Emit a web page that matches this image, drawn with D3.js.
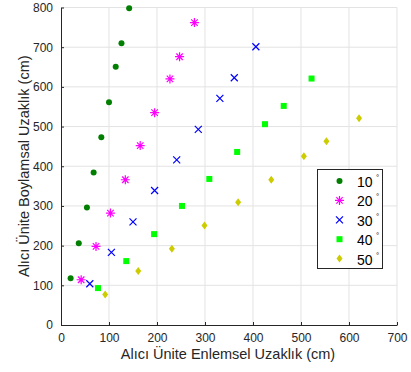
<!DOCTYPE html>
<html>
<head>
<meta charset="utf-8">
<script src="https://cdn.jsdelivr.net/npm/d3@7"></script>
<style>
  body { margin: 0; background: #fff; }
  svg { font-family: "Liberation Sans", Arial, sans-serif; }
</style>
</head>
<body>
<div id="chart"></div>
<script>
// values (cm)
const angles = ["10", "20", "30", "40", "50"];
const x10 = [20, 37, 54, 68, 84, 100, 114, 126, 142];
const y10 = [118, 206, 296, 384, 473, 561, 651, 710, 798];
const x20 = [42, 73, 103, 134, 165, 195, 227, 247, 278];
const y20 = [114, 198, 282, 366, 452, 535, 620, 676, 762];
const x30 = [60, 105, 150, 195, 241, 286, 331, 361, 406];
const y30 = [104, 183, 260, 339, 416, 493, 571, 623, 701];
const x40 = [77, 136, 194, 252, 309, 367, 425, 464, 522];
const y40 = [93, 161, 229, 300, 368, 436, 506, 552, 621];
const x50 = [92, 161, 231, 299, 369, 438, 506, 553, 621];
const y50 = [77, 136, 192, 251, 309, 366, 425, 463, 521];
const xTicks = [0, 100, 200, 300, 400, 500, 600, 700];
const yTicks = [0, 100, 200, 300, 400, 500, 600, 700, 800];

const width = 411, height = 372;
const svg = d3.select("#chart").append("svg")
  .attr("width", width).attr("height", height);

const x = d3.scaleLinear().domain([0, 700]).range([61, 397]);
const y = d3.scaleLinear().domain([0, 800]).range([325, 7.5]);

// grid
svg.append("g").selectAll("line").data(xTicks.slice(1)).join("line")
  .attr("x1", d => x(d)).attr("x2", d => x(d))
  .attr("y1", y(0)).attr("y2", y(800))
  .attr("stroke", "#e3e3e3").attr("stroke-width", 1);
svg.append("g").selectAll("line").data(yTicks.slice(1)).join("line")
  .attr("x1", x(0)).attr("x2", x(700))
  .attr("y1", d => y(d)).attr("y2", d => y(d))
  .attr("stroke", "#e3e3e3").attr("stroke-width", 1);

// axes
const xAxis = svg.append("g").attr("transform", `translate(0,${y(0)})`)
  .call(d3.axisBottom(x).tickValues(xTicks).tickSizeInner(-3).tickSizeOuter(0).tickPadding(8));
const yAxis = svg.append("g").attr("transform", `translate(${x(0)},0)`)
  .call(d3.axisLeft(y).tickValues(yTicks).tickSizeInner(-3).tickSizeOuter(0).tickPadding(8));
[xAxis, yAxis].forEach(g => {
  g.select(".domain").attr("stroke", "#262626");
  g.selectAll(".tick line").attr("stroke", "#262626");
  g.selectAll(".tick text").attr("fill", "#262626").attr("font-size", 12)
    .attr("font-family", "Liberation Sans, Arial, sans-serif");
});

svg.append("text").attr("x", (x(0) + x(700)) / 2 - 1).attr("y", 359)
  .attr("text-anchor", "middle").attr("font-size", 14.5).attr("fill", "#262626")
  .text("Alıcı Ünite Enlemsel Uzaklık (cm)");
svg.append("text")
  .attr("transform", `translate(29,${(y(0) + y(800)) / 2}) rotate(-90)`)
  .attr("text-anchor", "middle").attr("font-size", 14.5).attr("fill", "#262626")
  .text("Alıcı Ünite Boylamsal Uzaklık (cm)");

// marker drawing
function marker(g, kind, color) {
  if (kind === "circle") {
    g.append("circle").attr("r", 3).attr("fill", color);
  } else if (kind === "star") {
    const s = 4.5;
    g.append("path")
      .attr("d", `M${-s},0H${s}M0,${-s}V${s}M${-s*0.72},${-s*0.72}L${s*0.72},${s*0.72}M${-s*0.72},${s*0.72}L${s*0.72},${-s*0.72}`)
      .attr("stroke", color).attr("stroke-width", 1.2).attr("fill", "none");
  } else if (kind === "cross") {
    const s = 3.5;
    g.append("path").attr("d", `M${-s},${-s}L${s},${s}M${-s},${s}L${s},${-s}`)
      .attr("stroke", color).attr("stroke-width", 1.2).attr("fill", "none");
  } else if (kind === "square") {
    g.append("rect").attr("x", -3).attr("y", -3).attr("width", 6).attr("height", 6).attr("fill", color);
  } else {
    g.append("path").attr("d", "M0,-4L3,0L0,4L-3,0Z").attr("fill", color);
  }
}

const series = [
  { xs: x10, ys: y10, kind: "circle", color: "#007f00" },
  { xs: x20, ys: y20, kind: "star", color: "#ff00ff" },
  { xs: x30, ys: y30, kind: "cross", color: "#0000ff" },
  { xs: x40, ys: y40, kind: "square", color: "#00ff00" },
  { xs: x50, ys: y50, kind: "diamond", color: "#cccc00" }
];

series.forEach(s => {
  const pts = s.xs.map((v, i) => [v, s.ys[i]]);
  svg.append("g").selectAll("g").data(pts).join("g")
    .attr("transform", d => `translate(${x(d[0])},${y(d[1])})`)
    .each(function () { marker(d3.select(this), s.kind, s.color); });
});

// legend
const legend = svg.append("g");
legend.append("rect").attr("x", 317.5).attr("y", 169.5).attr("width", 65).attr("height", 99)
  .attr("fill", "#fff").attr("stroke", "#262626").attr("stroke-width", 1);
series.forEach((s, i) => {
  const cy = 181 + i * 19.4;
  const g = legend.append("g").attr("transform", `translate(339.5,${cy})`);
  marker(g, s.kind, s.color);
  legend.append("text").attr("x", 357).attr("y", cy + 6)
    .attr("font-size", 14).attr("fill", "#000").text(angles[i]);
  legend.append("text").attr("x", 376).attr("y", cy - 1)
    .attr("font-size", 8).attr("fill", "#000").text("°");
});
</script>
</body>
</html>
